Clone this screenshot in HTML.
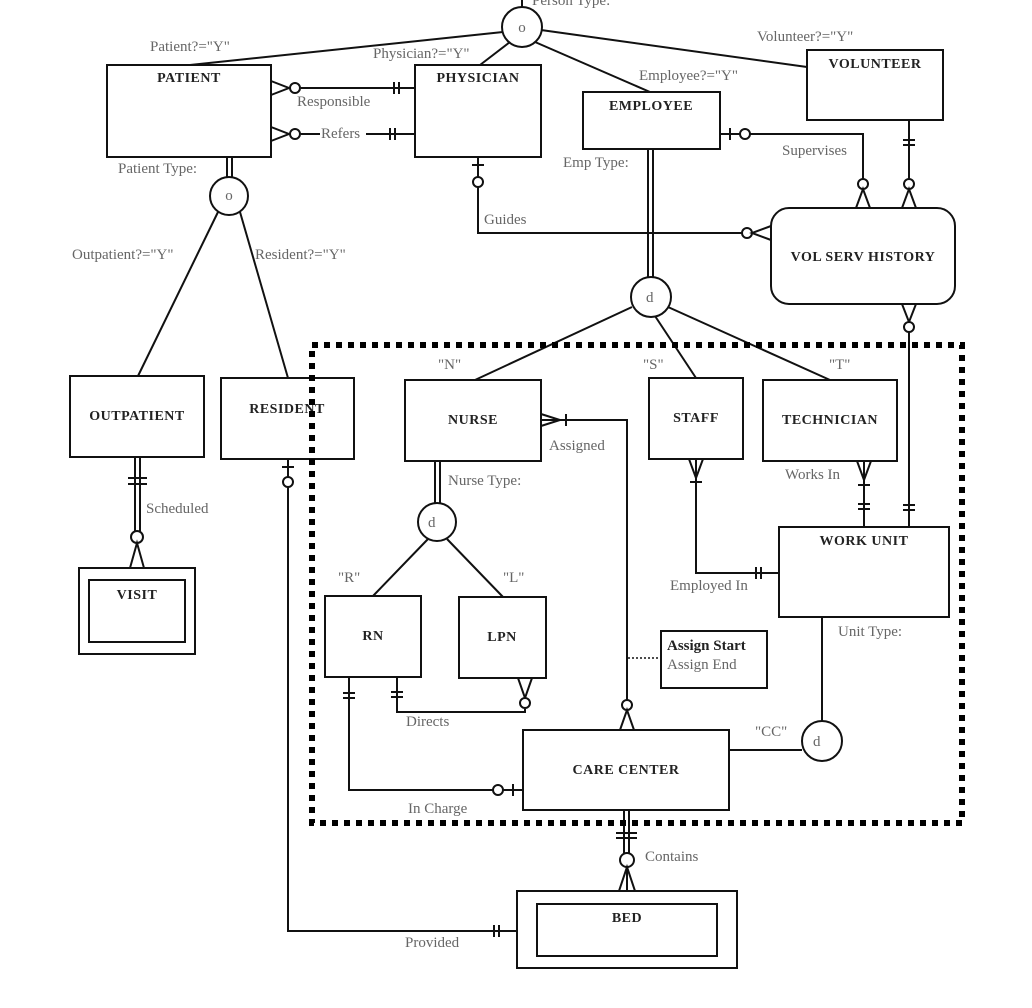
<!DOCTYPE html>
<html><head><meta charset="utf-8"><style>
html,body{margin:0;padding:0;background:#fff}
svg{display:block}
.e{fill:#fff;stroke:#111;stroke-width:2}
.l{fill:none;stroke:#111;stroke-width:2}
.t{font-family:"Liberation Serif",serif;font-weight:bold;font-size:14px;fill:#222;text-anchor:middle;letter-spacing:0.5px}
.g{font-family:"Liberation Serif",serif;font-size:15px;fill:#666}
.c{fill:#fff;stroke:#111;stroke-width:2}
</style></head><body>
<svg width="1032" height="1008" viewBox="0 0 1032 1008" xmlns="http://www.w3.org/2000/svg">
<!-- top supertype -->
<line class="l" x1="522" y1="0" x2="522" y2="8"/>
<text class="g" x="532" y="5">Person Type:</text>
<line class="l" x1="503" y1="32" x2="190" y2="65"/>
<line class="l" x1="510" y1="42" x2="480" y2="65"/>
<line class="l" x1="535" y1="42" x2="650" y2="92"/>
<line class="l" x1="541" y1="30" x2="807" y2="67"/>
<circle class="c" cx="522" cy="27" r="20"/>
<text class="g" x="522" y="32" text-anchor="middle" font-size="13">o</text>
<text class="g" x="150" y="51">Patient?="Y"</text>
<text class="g" x="373" y="58">Physician?="Y"</text>
<text class="g" x="639" y="80">Employee?="Y"</text>
<text class="g" x="757" y="41">Volunteer?="Y"</text>

<rect class="e" x="107" y="65" width="164" height="92"/>
<text class="t" x="189" y="82">PATIENT</text>
<rect class="e" x="415" y="65" width="126" height="92"/>
<text class="t" x="478" y="82">PHYSICIAN</text>
<rect class="e" x="583" y="92" width="137" height="57"/>
<text class="t" x="651" y="110">EMPLOYEE</text>
<rect class="e" x="807" y="50" width="136" height="70"/>
<text class="t" x="875" y="68">VOLUNTEER</text>
<rect class="e" x="771" y="208" width="184" height="96" rx="18"/>
<text class="t" x="863" y="261">VOL SERV HISTORY</text>

<!-- Responsible / Refers -->
<line class="l" x1="301" y1="88" x2="415" y2="88"/>
<polyline class="l" points="271,81 289,88 271,95"/>
<circle class="c" cx="295" cy="88" r="5"/>
<line class="l" x1="394" y1="82" x2="394" y2="94"/><line class="l" x1="399" y1="82" x2="399" y2="94"/>
<text class="g" x="297" y="106">Responsible</text>
<line class="l" x1="301" y1="134" x2="320" y2="134"/><line class="l" x1="366" y1="134" x2="415" y2="134"/>
<polyline class="l" points="271,127 289,134 271,141"/>
<circle class="c" cx="295" cy="134" r="5"/>
<line class="l" x1="390" y1="128" x2="390" y2="140"/><line class="l" x1="395" y1="128" x2="395" y2="140"/>
<text class="g" x="321" y="138">Refers</text>

<!-- Guides -->
<polyline class="l" points="478,157 478,233 742,233"/>
<line class="l" x1="472" y1="165" x2="484" y2="165"/>
<circle class="c" cx="478" cy="182" r="5"/>
<text class="g" x="484" y="224">Guides</text>
<circle class="c" cx="747" cy="233" r="5"/>
<polyline class="l" points="771,226 752,233 771,240"/>

<!-- Supervises -->
<polyline class="l" points="720,134 863,134 863,179"/>
<line class="l" x1="730" y1="128" x2="730" y2="140"/>
<circle class="c" cx="745" cy="134" r="5"/>
<text class="g" x="782" y="155">Supervises</text>
<circle class="c" cx="863" cy="184" r="5"/>
<polyline class="l" points="856,208 863,189 870,208"/>
<!-- volunteer -->
<line class="l" x1="909" y1="120" x2="909" y2="179"/>
<line class="l" x1="903" y1="140" x2="915" y2="140"/><line class="l" x1="903" y1="145" x2="915" y2="145"/>
<circle class="c" cx="909" cy="184" r="5"/>
<polyline class="l" points="902,208 909,189 916,208"/>

<!-- Patient subtype -->
<line class="l" x1="227" y1="157" x2="227" y2="177"/><line class="l" x1="232" y1="157" x2="232" y2="177"/>
<text class="g" x="118" y="173">Patient Type:</text>
<line class="l" x1="218" y1="212" x2="138" y2="376"/>
<line class="l" x1="240" y1="212" x2="288" y2="378"/>
<circle class="c" cx="229" cy="196" r="19"/>
<text class="g" x="229" y="200" text-anchor="middle" font-size="13">o</text>
<text class="g" x="72" y="259">Outpatient?="Y"</text>
<text class="g" x="255" y="259">Resident?="Y"</text>
<rect class="e" x="70" y="376" width="134" height="81"/>
<text class="t" x="137" y="420">OUTPATIENT</text>
<rect class="e" x="221" y="378" width="133" height="81"/>
<text class="t" x="287" y="413">RESIDENT</text>
<!-- Scheduled -->
<line class="l" x1="135" y1="457" x2="135" y2="532"/><line class="l" x1="140" y1="457" x2="140" y2="532"/>
<line class="l" x1="128" y1="478" x2="147" y2="478"/><line class="l" x1="128" y1="484" x2="147" y2="484"/>
<text class="g" x="146" y="513">Scheduled</text>
<circle class="c" cx="137" cy="537" r="6"/>
<polyline class="l" points="130,568 137,543 144,568"/>
<rect class="e" x="79" y="568" width="116" height="86"/>
<rect class="e" x="89" y="580" width="96" height="62"/>
<text class="t" x="137" y="599">VISIT</text>
<!-- Provided -->
<polyline class="l" points="288,459 288,931 517,931"/>
<line class="l" x1="282" y1="467" x2="294" y2="467"/>
<circle class="c" cx="288" cy="482" r="5"/>
<line class="l" x1="494" y1="925" x2="494" y2="937"/><line class="l" x1="499" y1="925" x2="499" y2="937"/>
<text class="g" x="405" y="947">Provided</text>

<!-- Employee subtype -->
<line class="l" x1="648" y1="149" x2="648" y2="278"/><line class="l" x1="653" y1="149" x2="653" y2="278"/>
<text class="g" x="563" y="167">Emp Type:</text>
<line class="l" x1="632" y1="307" x2="475" y2="380"/>
<line class="l" x1="655" y1="316" x2="696" y2="378"/>
<line class="l" x1="668" y1="307" x2="830" y2="380"/>
<circle class="c" cx="651" cy="297" r="20"/>
<text class="g" x="646" y="302" font-size="14">d</text>
<text class="g" x="438" y="369">"N"</text>
<text class="g" x="643" y="369">"S"</text>
<text class="g" x="829" y="369">"T"</text>

<!-- VSH to Work unit -->
<polyline class="l" points="902,304 909,322 916,304"/>
<circle class="c" cx="909" cy="327" r="5"/>
<line class="l" x1="909" y1="332" x2="909" y2="527"/>
<line class="l" x1="903" y1="505" x2="915" y2="505"/><line class="l" x1="903" y1="510" x2="915" y2="510"/>

<rect class="e" x="405" y="380" width="136" height="81"/>
<text class="t" x="473" y="424">NURSE</text>
<rect class="e" x="649" y="378" width="94" height="81"/>
<text class="t" x="696" y="422">STAFF</text>
<rect class="e" x="763" y="380" width="134" height="81"/>
<text class="t" x="830" y="424">TECHNICIAN</text>
<rect class="e" x="779" y="527" width="170" height="90"/>
<text class="t" x="864" y="545">WORK UNIT</text>
<text class="g" x="838" y="636">Unit Type:</text>

<!-- Works In -->
<line class="l" x1="864" y1="461" x2="864" y2="527"/>
<polyline class="l" points="857,461 864,480 871,461"/>
<line class="l" x1="858" y1="485" x2="870" y2="485"/>
<line class="l" x1="858" y1="504" x2="870" y2="504"/><line class="l" x1="858" y1="509" x2="870" y2="509"/>
<text class="g" x="785" y="479">Works In</text>
<!-- Employed In -->
<polyline class="l" points="696,459 696,573 779,573"/>
<polyline class="l" points="689,459 696,478 703,459"/>
<line class="l" x1="690" y1="482" x2="702" y2="482"/>
<line class="l" x1="756" y1="567" x2="756" y2="579"/><line class="l" x1="761" y1="567" x2="761" y2="579"/>
<text class="g" x="670" y="590">Employed In</text>

<!-- Assigned -->
<polyline class="l" points="541,420 627,420 627,700"/>
<polyline class="l" points="541,414 560,420 541,426"/>
<line class="l" x1="566" y1="414" x2="566" y2="426"/>
<text class="g" x="549" y="450">Assigned</text>
<circle class="c" cx="627" cy="705" r="5"/>
<polyline class="l" points="620,730 627,710 634,730"/>
<line x1="628" y1="658" x2="661" y2="658" stroke="#111" stroke-width="1.5" stroke-dasharray="2,2"/>
<rect class="e" x="661" y="631" width="106" height="57"/>
<text x="667" y="650" font-family="Liberation Serif,serif" font-weight="bold" font-size="15" fill="#222">Assign Start</text>
<text class="g" x="667" y="669">Assign End</text>

<!-- Nurse subtype -->
<line class="l" x1="435" y1="461" x2="435" y2="504"/><line class="l" x1="440" y1="461" x2="440" y2="504"/>
<text class="g" x="448" y="485">Nurse Type:</text>
<line class="l" x1="428" y1="539" x2="373" y2="596"/>
<line class="l" x1="447" y1="539" x2="503" y2="597"/>
<circle class="c" cx="437" cy="522" r="19"/>
<text class="g" x="428" y="527" font-size="14">d</text>
<text class="g" x="338" y="582">"R"</text>
<text class="g" x="503" y="582">"L"</text>
<rect class="e" x="325" y="596" width="96" height="81"/>
<text class="t" x="373" y="640">RN</text>
<rect class="e" x="459" y="597" width="87" height="81"/>
<text class="t" x="502" y="641">LPN</text>
<!-- Directs -->
<polyline class="l" points="397,677 397,712 525,712 525,709"/>
<line class="l" x1="391" y1="692" x2="403" y2="692"/><line class="l" x1="391" y1="697" x2="403" y2="697"/>
<polyline class="l" points="518,678 525,698 532,678"/>
<circle class="c" cx="525" cy="703" r="5"/>
<text class="g" x="406" y="726">Directs</text>
<!-- In Charge -->
<polyline class="l" points="349,677 349,790 493,790"/>
<line class="l" x1="343" y1="693" x2="355" y2="693"/><line class="l" x1="343" y1="698" x2="355" y2="698"/>
<circle class="c" cx="498" cy="790" r="5"/>
<line class="l" x1="503" y1="790" x2="523" y2="790"/>
<line class="l" x1="513" y1="784" x2="513" y2="796"/>
<text class="g" x="408" y="813">In Charge</text>

<rect class="e" x="523" y="730" width="206" height="80"/>
<text class="t" x="626" y="774">CARE CENTER</text>
<!-- CC subtype -->
<polyline class="l" points="822,617 822,721"/>
<line class="l" x1="729" y1="750" x2="802" y2="750"/>
<circle class="c" cx="822" cy="741" r="20"/>
<text class="g" x="813" y="746" font-size="14">d</text>
<text class="g" x="755" y="736">"CC"</text>

<!-- Contains -->
<line class="l" x1="624" y1="810" x2="624" y2="853"/><line class="l" x1="629" y1="810" x2="629" y2="853"/>
<line class="l" x1="616" y1="833" x2="637" y2="833"/><line class="l" x1="616" y1="838" x2="637" y2="838"/>
<circle class="c" cx="627" cy="860" r="7"/>
<polyline class="l" points="619,891 627,867 635,891"/>
<line class="l" x1="627" y1="867" x2="627" y2="891"/>
<text class="g" x="645" y="861">Contains</text>
<rect class="e" x="517" y="891" width="220" height="77"/>
<rect class="e" x="537" y="904" width="180" height="52"/>
<text class="t" x="627" y="922">BED</text>

<!-- dotted boundary -->
<rect x="312" y="345" width="650" height="478" fill="none" stroke="#000" stroke-width="6" stroke-dasharray="6,6"/>
</svg>
</body></html>
